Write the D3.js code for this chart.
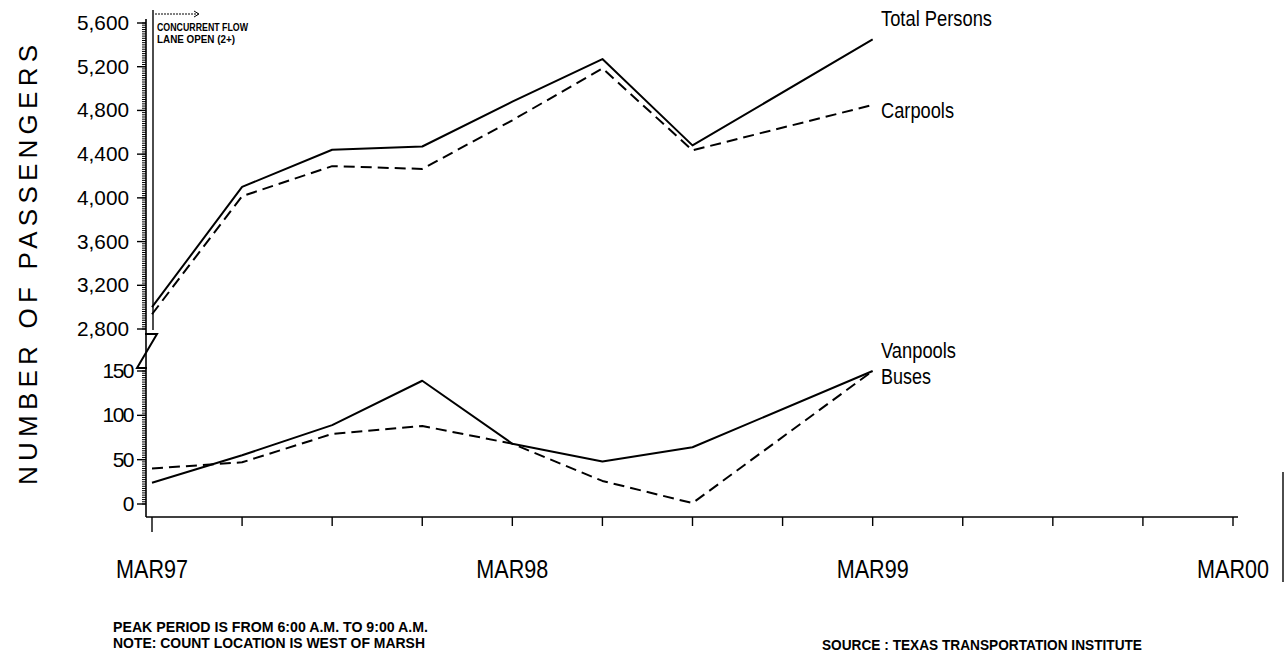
<!DOCTYPE html>
<html><head><meta charset="utf-8">
<script src="https://cdn.jsdelivr.net/npm/d3@7"></script>
<style>
html,body{margin:0;padding:0;background:#fff;}
svg{display:block;font-family:"Liberation Sans",Arial,sans-serif;}
</style></head>
<body>
<svg id="c" width="1286" height="659"></svg>
<script>
// ---- data ----
const periods = ["MAR97","JUN97","SEP97","DEC97","MAR98","JUN98","SEP98","MAR99"];
const quarterIndex = [0,1,2,3,4,5,6,8];
const totalPersons = [3000,4100,4440,4470,4880,5270,4480,5450];
const carpools     = [2935,4015,4290,4265,4710,5185,4435,4850];
const vanpools     = [24,55,89,139,68,48,64,150];
const buses        = [40,47,79,88,68,26,1,150];
const xTickLabels  = ["MAR97","MAR98","MAR99","MAR00"];
const upperTicks   = [2800,3200,3600,4000,4400,4800,5200,5600];
const lowerTicks   = [0,50,100,150];

const svg = d3.select("#c");
const x = d3.scaleLinear().domain([0,12]).range([152,1233]);
const yU = d3.scaleLinear().domain([2800,5600]).range([329,23]);
const yL = d3.scaleLinear().domain([0,150]).range([504,371]);
const axisX = 146;

// y-axis line
svg.append("line").attr("x1",axisX).attr("x2",axisX).attr("y1",yU(5600)-4).attr("y2",517)
  .attr("stroke","#000").attr("stroke-width",1.6);

// minor ruler ticks
const minorU = d3.range(2800,5601,20);
svg.append("g").selectAll("line").data(minorU).join("line")
  .attr("x1",axisX-4).attr("x2",axisX).attr("y1",d=>yU(d)).attr("y2",d=>yU(d))
  .attr("stroke","#000").attr("stroke-width",1);
const minorL = d3.range(0,150.1,2.5);
svg.append("g").selectAll("line").data(minorL).join("line")
  .attr("x1",axisX-4).attr("x2",axisX).attr("y1",d=>yL(d)).attr("y2",d=>yL(d))
  .attr("stroke","#000").attr("stroke-width",1);

// major ticks + labels
svg.append("g").selectAll("line").data(upperTicks).join("line")
  .attr("x1",axisX-9).attr("x2",axisX).attr("y1",d=>yU(d)).attr("y2",d=>yU(d))
  .attr("stroke","#000").attr("stroke-width",1.4);
svg.append("g").selectAll("text").data(upperTicks).join("text")
  .attr("x",129).attr("y",d=>yU(d)+7).attr("text-anchor","end")
  .attr("font-size",21).attr("textLength",52).attr("lengthAdjust","spacingAndGlyphs")
  .text(d=>d3.format(",")(d));
svg.append("g").selectAll("line").data(lowerTicks).join("line")
  .attr("x1",axisX-9).attr("x2",axisX).attr("y1",d=>yL(d)).attr("y2",d=>yL(d))
  .attr("stroke","#000").attr("stroke-width",1.4);
svg.append("g").selectAll("text").data(lowerTicks).join("text")
  .attr("x",133).attr("y",d=>yL(d)+7).attr("text-anchor","end")
  .attr("font-size",21).attr("letter-spacing",-1.5)
  .text(d=>d);

// axis break
svg.append("path").attr("d",`M${axisX-1},334 L157,334 L137,368 L${axisX+1},368`)
  .attr("fill","none").attr("stroke","#000").attr("stroke-width",2);

// x-axis
svg.append("line").attr("x1",axisX).attr("x2",1238).attr("y1",517).attr("y2",517)
  .attr("stroke","#000").attr("stroke-width",1.6);
svg.append("g").selectAll("line").data(d3.range(0,13)).join("line")
  .attr("x1",d=>x(d)).attr("x2",d=>x(d)).attr("y1",517).attr("y2",d=>d===0?532:526)
  .attr("stroke","#000").attr("stroke-width",1.4);
svg.append("g").selectAll("text").data(xTickLabels).join("text")
  .attr("x",(d,i)=>x(i*4)).attr("y",578).attr("text-anchor","middle")
  .attr("font-size",26).attr("textLength",72).attr("lengthAdjust","spacingAndGlyphs")
  .text(d=>d);

// y title
svg.append("text").attr("transform","translate(37,265) rotate(-90)")
  .attr("text-anchor","middle").attr("font-size",26)
  .attr("textLength",440).attr("lengthAdjust","spacing")
  .text("NUMBER OF PASSENGERS");

// concurrent flow marker
svg.append("line").attr("x1",153).attr("x2",153).attr("y1",10).attr("y2",330)
  .attr("stroke","#000").attr("stroke-width",1.4);
svg.append("line").attr("x1",155).attr("x2",198).attr("y1",14).attr("y2",14)
  .attr("stroke","#000").attr("stroke-width",1).attr("stroke-dasharray","2,1");
svg.append("path").attr("d","M194,11 L199,14 L194,17").attr("fill","none")
  .attr("stroke","#000").attr("stroke-width",1);
svg.append("text").attr("x",157).attr("y",31).attr("font-size",10).attr("font-weight","bold")
  .attr("textLength",91).attr("lengthAdjust","spacingAndGlyphs").text("CONCURRENT FLOW");
svg.append("text").attr("x",157).attr("y",43).attr("font-size",10).attr("font-weight","bold")
  .attr("textLength",78).attr("lengthAdjust","spacingAndGlyphs").text("LANE OPEN (2+)");

// series lines
function drawLine(vals, yS, dashed){
  const pts = vals.map((v,i)=>[x(quarterIndex[i]), yS(v)]);
  svg.append("path").attr("d",d3.line()(pts)).attr("fill","none")
    .attr("stroke","#000").attr("stroke-width",2)
    .attr("stroke-dasharray",dashed?"11,6":null).attr("stroke-linejoin","round");
}
drawLine(totalPersons,yU,false);
drawLine(carpools,yU,true);
drawLine(vanpools,yL,false);
drawLine(buses,yL,true);

// series labels
const labels = [
  {t:"Total Persons",y:26,w:111},
  {t:"Carpools",y:118,w:73},
  {t:"Vanpools",y:358,w:75},
  {t:"Buses",y:384,w:50}
];
svg.append("g").selectAll("text").data(labels).join("text")
  .attr("x",881).attr("y",d=>d.y).attr("font-size",22)
  .attr("textLength",d=>d.w).attr("lengthAdjust","spacingAndGlyphs").text(d=>d.t);

// notes
const notes = [
  {t:"PEAK PERIOD IS FROM 6:00 A.M. TO 9:00 A.M.",x:113,y:632,w:315},
  {t:"NOTE: COUNT LOCATION IS WEST OF MARSH",x:113,y:648,w:312},
  {t:"SOURCE : TEXAS TRANSPORTATION INSTITUTE",x:822,y:650,w:320}
];
svg.append("g").selectAll("text").data(notes).join("text")
  .attr("x",d=>d.x).attr("y",d=>d.y).attr("font-size",15).attr("font-weight","bold")
  .attr("textLength",d=>d.w).attr("lengthAdjust","spacingAndGlyphs").text(d=>d.t);

// scan border at right
svg.append("line").attr("x1",1283).attr("x2",1283).attr("y1",472).attr("y2",582)
  .attr("stroke","#000").attr("stroke-width",1.4);
</script>
</body></html>
